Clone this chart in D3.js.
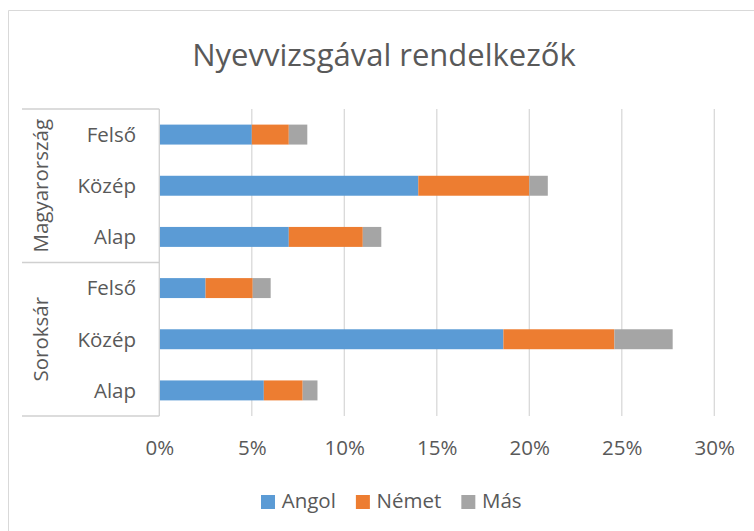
<!DOCTYPE html>
<html>
<head>
<meta charset="utf-8">
<script src="https://cdn.jsdelivr.net/npm/d3@7"></script>
<style>
  html, body { margin: 0; padding: 0; background: #fff; }
  svg { display: block; }
  text { font-family: "Open Sans", sans-serif; fill: #595959; }
</style>
</head>
<body>
<svg id="chart" width="754" height="531"></svg>
<script>
const title = "Nyevvizsgával rendelkezők";
const groups = ["Magyarország", "Soroksár"];
const levels = ["Felső", "Közép", "Alap"];
const seriesNames = ["Angol", "Német", "Más"];
const angol = [5, 14, 7, 2.5, 18.6, 5.65];
const nemet = [2, 6, 4, 2.55, 6.0, 2.1];
const mas   = [1, 1, 1, 0.97, 3.15, 0.8];
const tickValues = [0, 5, 10, 15, 20, 25, 30];
const colors = ["#5B9BD5", "#ED7D31", "#A5A5A5"];

const svg = d3.select("#chart");
const W = 754, H = 531;
const plot = { left: 159.3, right: 714.3, top: 109, bottom: 416 };
const tableLeft = 22;

// rows
const rows = [];
groups.forEach((g, gi) => levels.forEach((l, li) => rows.push({ key: g + "|" + l, group: g, level: l })));
const values = [angol, nemet, mas];
rows.forEach((r, i) => { r.vals = values.map(v => v[i]); });

const x = d3.scaleLinear().domain([0, 30]).range([plot.left, plot.right]);
const y = d3.scaleBand().domain(rows.map(r => r.key)).range([plot.top, plot.bottom])
  .paddingInner(0.61).paddingOuter(0.305);

// outer chart border (only left/top visible)
svg.append("path")
  .attr("d", `M8.5,${H} L8.5,10.5 L${W},10.5`)
  .attr("fill", "none").attr("stroke", "#d9d9d9").attr("stroke-width", 1);

// title
svg.append("text").attr("x", 384).attr("y", 66).attr("text-anchor", "middle")
  .style("font-size", "31px").text(title);

// gridlines
svg.append("g").selectAll("line").data(tickValues.filter(d => d > 0)).join("line")
  .attr("x1", d => x(d)).attr("x2", d => x(d))
  .attr("y1", plot.top).attr("y2", plot.bottom)
  .attr("stroke", "#d9d9d9").attr("stroke-width", 1.3);

// stacked bars
const stack = d3.stack().keys([0, 1, 2]).value((r, k) => r.vals[k]);
const stacked = stack(rows);
svg.append("g").selectAll("g").data(stacked).join("g")
  .attr("fill", (d, i) => colors[i])
  .selectAll("rect").data(d => d).join("rect")
  .attr("x", d => x(d[0]))
  .attr("width", d => x(d[1]) - x(d[0]))
  .attr("y", d => y(d.data.key))
  .attr("height", y.bandwidth());

// x axis (labels only)
const xAxis = d3.axisBottom(x).tickValues(tickValues).tickFormat(d => d + "%").tickSize(0).tickPadding(0);
const ax = svg.append("g").attr("transform", `translate(0,${plot.bottom})`).call(xAxis);
ax.select(".domain").remove();
ax.selectAll("text").attr("y", 39).attr("dy", 0)
  .style("font-size", "20.5px").style("font-family", '"Open Sans", sans-serif').attr("fill", "#595959");

// table lines
const lineColor = "#d0d0d0";
const groupBounds = [plot.top];
groups.forEach(g => {
  const keys = rows.filter(r => r.group === g).map(r => r.key);
  groupBounds.push(y(keys[keys.length - 1]) + y.bandwidth() + y.step() * y.paddingInner() / 2);
});
groupBounds[groupBounds.length - 1] = plot.bottom;
svg.append("g").selectAll("line").data(groupBounds).join("line")
  .attr("x1", tableLeft).attr("x2", plot.left)
  .attr("y1", d => d).attr("y2", d => d)
  .attr("stroke", lineColor).attr("stroke-width", 1.3);
svg.append("line").attr("x1", plot.left).attr("x2", plot.left)
  .attr("y1", plot.top).attr("y2", plot.bottom)
  .attr("stroke", lineColor).attr("stroke-width", 1.3);

// category labels
svg.append("g").selectAll("text").data(rows).join("text")
  .attr("x", 136).attr("y", r => y(r.key) + y.bandwidth() / 2)
  .attr("dy", "0.36em").attr("text-anchor", "end")
  .style("font-size", "20.5px").text(r => r.level);

// group labels
groups.forEach((g, gi) => {
  const cy = (groupBounds[gi] + groupBounds[gi + 1]) / 2;
  svg.append("text").attr("transform", `translate(47.5,${cy}) rotate(-90)`)
    .attr("text-anchor", "middle").style("font-size", "20.5px").text(g);
});

// legend
const legend = svg.append("g");
let lx = 261;
seriesNames.forEach((s, i) => {
  legend.append("rect").attr("x", lx).attr("y", 495).attr("width", 14).attr("height", 14).attr("fill", colors[i]);
  const t = legend.append("text").attr("x", lx + 20.7).attr("y", 508).style("font-size", "20.5px").text(s);
  const w = t.node().getComputedTextLength();
  lx += 20.7 + w + 20;
});
</script>
</body>
</html>
